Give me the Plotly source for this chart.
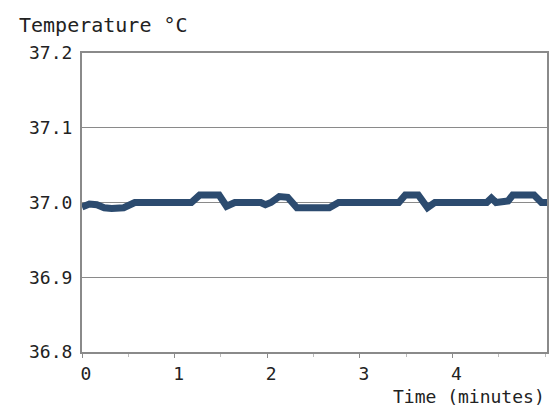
import plotly.graph_objects as go

# time (minutes) and temperature (°C)
time_min = [0.0, 0.08, 0.16, 0.24, 0.32, 0.45, 0.57, 1.18, 1.27, 1.48, 1.56, 1.65,
            1.93, 1.98, 2.04, 2.13, 2.22, 2.32, 2.67, 2.77, 3.42, 3.49, 3.63, 3.73,
            3.81, 4.37, 4.42, 4.47, 4.6, 4.65, 4.88, 4.96, 5.02]
temp_c = [36.994, 36.998, 36.997, 36.993, 36.992, 36.993, 37.0, 37.0, 37.01, 37.01, 36.995, 37.0,
          37.0, 36.997, 37.0, 37.008, 37.007, 36.993, 36.993, 37.0, 37.0, 37.01, 37.01, 36.993,
          37.0, 37.0, 37.006, 37.0, 37.002, 37.01, 37.01, 37.0, 37.0]

y_ticks = [36.8, 36.9, 37.0, 37.1, 37.2]
y_labels = ['36.8', '36.9', '37.0', '37.1', '37.2']
x_ticks = [0, 1, 2, 3, 4]

FONT = 'DejaVu Sans Mono'
AXIS = '#8a8a8a'

fig = go.Figure()
fig.add_trace(go.Scatter(
    x=time_min, y=temp_c, mode='lines',
    line=dict(color='#2c4b6f', width=7),
    showlegend=False, hoverinfo='skip'))

# page body has an 8px margin, keep the figure inside the window (no scrollbars)
fig.update_layout(
    width=541, height=401,
    margin=dict(l=74, r=0, t=45, b=57),
    paper_bgcolor='white', plot_bgcolor='white',
    font=dict(family=FONT, color='#222', size=18),
    xaxis=dict(range=[0, 5.02], tickvals=x_ticks, ticktext=[str(v) for v in x_ticks],
               showgrid=False, zeroline=False,
               showline=True, linecolor=AXIS, linewidth=2, mirror=True,
               ticks='outside', ticklen=4, tickcolor=AXIS,
               minor=dict(dtick=0.5, ticks='outside', ticklen=3, tickcolor='#bbb'),
               ticklabelshift=4, tickfont=dict(size=18, family=FONT)),
    yaxis=dict(range=[36.8, 37.2], tickvals=y_ticks, ticktext=y_labels,
               showgrid=True, gridcolor=AXIS, gridwidth=1, zeroline=False,
               showline=True, linecolor=AXIS, linewidth=2, mirror=True,
               ticks='', ticklabelstandoff=4, tickfont=dict(size=18, family=FONT)),
    annotations=[
        dict(text='Temperature °C', xref='paper', yref='paper', x=-0.14, y=1.14,
             xanchor='left', yanchor='top', showarrow=False,
             font=dict(size=20, family=FONT, color='#222')),
        dict(text='Time (minutes)', xref='paper', yref='paper', x=1.0, y=-0.108,
             xanchor='right', yanchor='top', showarrow=False,
             font=dict(size=18, family=FONT, color='#222')),
    ])

fig.write_html("out.html")
